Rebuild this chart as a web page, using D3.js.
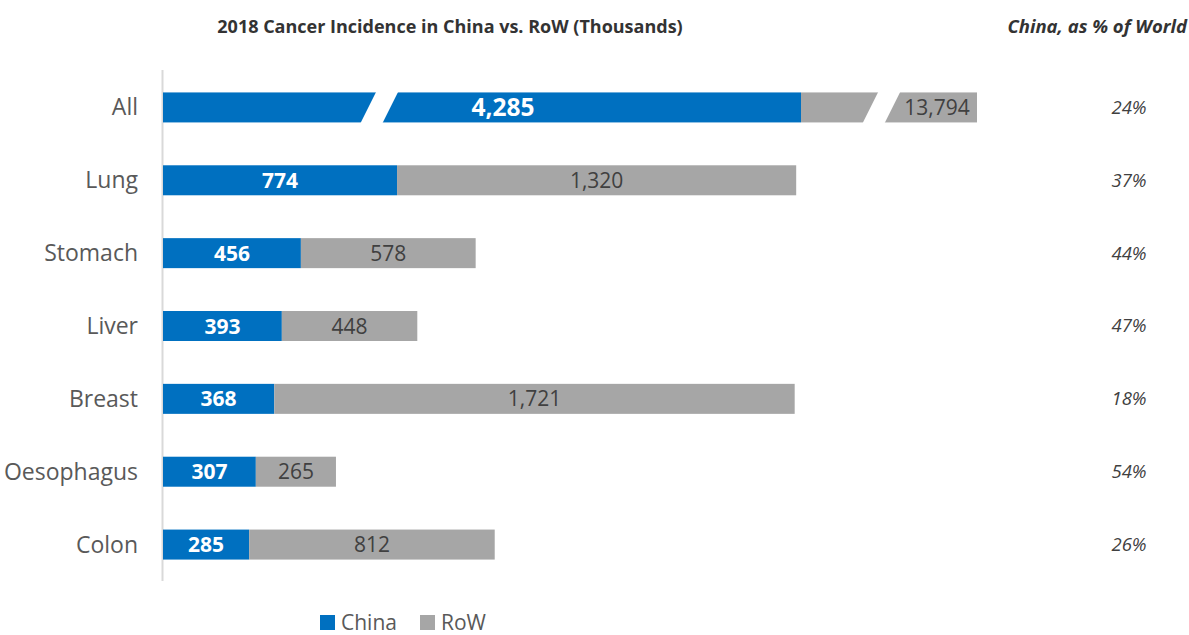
<!DOCTYPE html>
<html>
<head>
<meta charset="utf-8">
<script src="https://cdn.jsdelivr.net/npm/d3@7"></script>
<style>
  html, body { margin: 0; padding: 0; background: #fff; }
  svg { display: block; font-family: "Open Sans", "Noto Sans", sans-serif; }
</style>
</head>
<body>
<svg id="chart" width="1189" height="635"></svg>
<script>
// Cancer types, top to bottom
const categories = ["All", "Lung", "Stomach", "Liver", "Breast", "Oesophagus", "Colon"];
// New cases in 2018, thousands
const chinaValues = [4285, 774, 456, 393, 368, 307, 285];
const rowValues   = [13794, 1320, 578, 448, 1721, 265, 812];
// China's share of the world total
const shareLabels = ["24%", "37%", "44%", "47%", "18%", "54%", "26%"];
const seriesNames = ["China", "RoW"];

const colors = { China: "#0070C0", RoW: "#A6A6A6" };
const x0 = 163;
const barH = 30;

const svg = d3.select("#chart");

const data = categories.map((c, i) => ({
  cat: c, china: chinaValues[i], row: rowValues[i], share: shareLabels[i]
}));

// Row positions
const y = d3.scalePoint().domain(categories).range([71, 581]).padding(0.5);

// Linear value scale for the regular rows
const x = d3.scaleLinear().domain([0, 2100]).range([x0, 798]);

// Compressed (broken) scale for the "All" row, which is far off the regular scale
const allRow = data[0];
const xAll = d3.scaleLinear()
  .domain([0, allRow.china, allRow.china + allRow.row])
  .range([x0, 801, 977]);

// Axis line on the left
svg.append("line")
  .attr("x1", x0 - 0.5).attr("x2", x0 - 0.5)
  .attr("y1", 70).attr("y2", 581)
  .attr("stroke", "#D9D9D9").attr("stroke-width", 2);

// Title and right-hand header
svg.append("text")
  .attr("x", 450).attr("y", 33)
  .attr("text-anchor", "middle")
  .attr("font-size", 18).attr("font-weight", "bold")
  .attr("fill", "#333")
  .text("2018 Cancer Incidence in China vs. RoW (Thousands)");

svg.append("text")
  .attr("x", 1187).attr("y", 33)
  .attr("text-anchor", "end")
  .attr("font-size", 18.5).attr("font-weight", "bold").attr("font-style", "italic")
  .attr("fill", "#333")
  .text("China, as % of World");

// Category labels
svg.append("g").selectAll("text")
  .data(data).join("text")
  .attr("x", 138)
  .attr("y", d => y(d.cat))
  .attr("dy", "0.35em")
  .attr("text-anchor", "end")
  .attr("font-size", 23)
  .attr("fill", "#595959")
  .text(d => d.cat);

// Stacked bars
const rows = svg.append("g").selectAll("g")
  .data(data).join("g");

rows.each(function(d, i) {
  const g = d3.select(this);
  const sc = i === 0 ? xAll : x;
  const top = y(d.cat) - barH / 2;
  g.append("rect")
    .attr("x", sc(0)).attr("y", top)
    .attr("width", sc(d.china) - sc(0)).attr("height", barH)
    .attr("fill", colors.China);
  g.append("rect")
    .attr("x", sc(d.china)).attr("y", top)
    .attr("width", sc(d.china + d.row) - sc(d.china)).attr("height", barH)
    .attr("fill", colors.RoW);
});

// Slanted breaks on the "All" bar (fraction along each segment)
const breakFractions = [
  { start: 0, end: allRow.china, f: 0.339 },
  { start: allRow.china, end: allRow.china + allRow.row, f: 0.457 }
];
const gapW = 22, slant = 16;
const allTop = y("All") - barH / 2;
svg.append("g").selectAll("path")
  .data(breakFractions).join("path")
  .attr("d", b => {
    const cx = xAll(b.start) + (xAll(b.end) - xAll(b.start)) * b.f;
    const t = allTop - 1, bt = allTop + barH + 1;
    return `M${cx - gapW / 2 + slant / 2},${t} L${cx + gapW / 2 + slant / 2},${t} ` +
           `L${cx + gapW / 2 - slant / 2},${bt} L${cx - gapW / 2 - slant / 2},${bt} Z`;
  })
  .attr("fill", "#fff");

// Value labels: China in white bold, RoW in dark gray
const fmt = d3.format(",");
const allLabelFrac = { china: 0.533, row: 0.773 };

svg.append("g").selectAll("text")
  .data(data).join("text")
  .attr("x", (d, i) => i === 0
    ? xAll(0) + (xAll(d.china) - xAll(0)) * allLabelFrac.china
    : (x(0) + x(d.china)) / 2)
  .attr("y", d => y(d.cat))
  .attr("dy", "0.36em")
  .attr("text-anchor", "middle")
  .attr("font-size", (d, i) => i === 0 ? 24.5 : 21)
  .attr("font-weight", "bold")
  .attr("fill", "#fff")
  .text(d => fmt(d.china));

svg.append("g").selectAll("text")
  .data(data).join("text")
  .attr("x", (d, i) => i === 0
    ? xAll(d.china) + (xAll(d.china + d.row) - xAll(d.china)) * allLabelFrac.row
    : (x(d.china) + x(d.china + d.row)) / 2)
  .attr("y", d => y(d.cat))
  .attr("dy", "0.36em")
  .attr("text-anchor", "middle")
  .attr("font-size", 21)
  .attr("fill", "#404040")
  .text(d => fmt(d.row));

// China share column
svg.append("g").selectAll("text")
  .data(data).join("text")
  .attr("x", 1129)
  .attr("y", d => y(d.cat))
  .attr("dy", "0.35em")
  .attr("text-anchor", "middle")
  .attr("font-size", 18.5)
  .attr("font-style", "italic")
  .attr("fill", "#404040")
  .text(d => d.share);

// Legend
const legend = svg.append("g").attr("transform", "translate(320, 622)");
const legendX = [0, 100];
seriesNames.forEach((name, i) => {
  const lg = legend.append("g").attr("transform", `translate(${legendX[i]},0)`);
  lg.append("rect").attr("x", 0).attr("y", -7).attr("width", 15).attr("height", 15)
    .attr("fill", colors[name]);
  lg.append("text").attr("x", 21).attr("y", 7.5)
    .attr("font-size", 21).attr("fill", "#595959").text(name);
});
</script>
</body>
</html>
